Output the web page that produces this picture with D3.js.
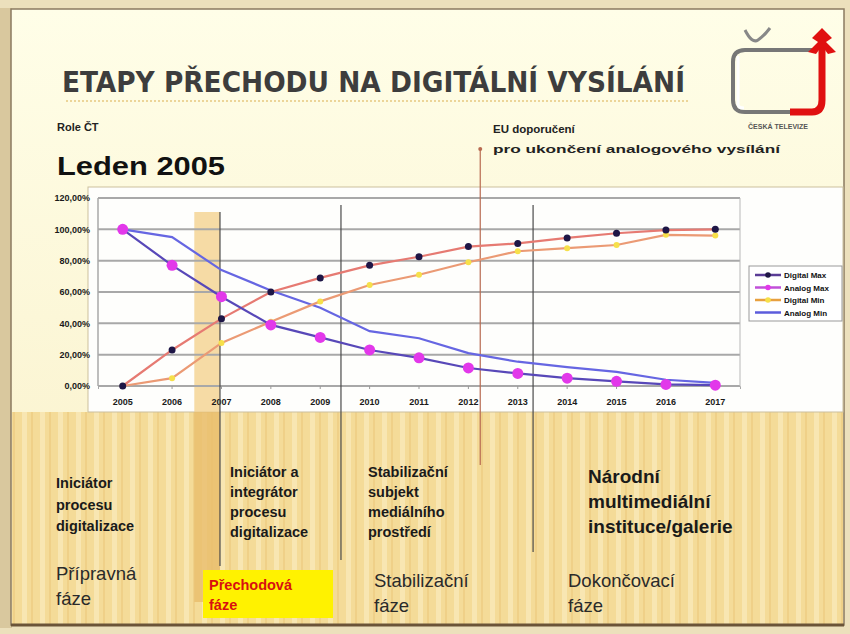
<!DOCTYPE html>
<html>
<head>
<meta charset="utf-8">
<script src="https://cdn.jsdelivr.net/npm/d3@7"></script>
<style>
  body { margin: 0; background: #eee3c2; }
  svg { display: block; }
</style>
</head>
<body>
<svg id="chart"></svg>
<script>
// Data
const years = ["2005", "2006", "2007", "2008", "2009", "2010", "2011", "2012", "2013", "2014", "2015", "2016", "2017"];
const digitalMax = [0, 23, 43, 60, 69, 77, 82.5, 89, 91, 94.5, 97.5, 99.5, 100];
const analogMax = [100, 77, 57, 39, 31, 23, 18, 11.5, 8, 5, 3, 1, 0.5];
const digitalMin = [0, 5, 27.5, 41, 54, 64.5, 71, 79, 86, 88, 90, 96.5, 96];
const analogMin = [100, 95, 74, 61, 50, 35, 30.5, 21, 15.5, 12, 9, 4, 2];
const yTicks = [0, 20, 40, 60, 80, 100, 120];
const seriesNames = ["Digital Max", "Analog Max", "Digital Min", "Analog Min"];

// phase boundaries (in years) and EU recommendation marker
const phaseLines = [2006.97, 2009.42, 2013.31];
const transitionBand = [2006.45, 2006.97];
const euYear = 2012.24;

const W = 850, H = 634;
const svg = d3.select("#chart").attr("width", W).attr("height", H);
const defs = svg.append("defs");

// background gradients
const gTop = defs.append("linearGradient").attr("id", "gTop").attr("x1", 0).attr("y1", 0).attr("x2", 0).attr("y2", 1);
gTop.append("stop").attr("offset", "0%").attr("stop-color", "#fffee8");
gTop.append("stop").attr("offset", "100%").attr("stop-color", "#f9f0c8");

const wood = defs.append("pattern").attr("id", "wood").attr("patternUnits", "userSpaceOnUse")
    .attr("width", 18).attr("height", 40);
wood.append("rect").attr("width", 18).attr("height", 40).attr("fill", "#f4db98");
wood.append("rect").attr("x", 4).attr("width", 5).attr("height", 40).attr("fill", "#f8e6b2");
wood.append("rect").attr("x", 13).attr("width", 2).attr("height", 40).attr("fill", "#efd088");

// slide frame
svg.append("rect").attr("width", W).attr("height", H).attr("fill", "#ece0bc");
svg.append("rect").attr("x", 0).attr("y", 8).attr("width", 12).attr("height", 620).attr("fill", "#d9c89e");
svg.append("rect").attr("x", 11).attr("y", 9).attr("width", 833).attr("height", 616)
    .attr("fill", "url(#gTop)").attr("stroke", "#8a7a60").attr("stroke-width", 1.5);
svg.append("rect").attr("x", 12).attr("y", 412).attr("width", 831).attr("height", 212).attr("fill", "url(#wood)");
svg.append("line").attr("x1", 11).attr("x2", 844).attr("y1", 625).attr("y2", 625)
    .attr("stroke", "#6b5438").attr("stroke-width", 3);

// Title
svg.append("text").attr("x", 62).attr("y", 92)
    .attr("font-family", "DejaVu Sans Condensed, DejaVu Sans, Arial")
    .attr("font-weight", "bold").attr("font-size", 29).attr("fill", "#3d3d3d")
    .attr("textLength", 623).attr("lengthAdjust", "spacingAndGlyphs")
    .text("ETAPY PŘECHODU NA DIGITÁLNÍ VYSÍLÁNÍ");
svg.append("line").attr("x1", 66).attr("x2", 690).attr("y1", 101).attr("y2", 101)
    .attr("stroke", "#e6c880").attr("stroke-width", 1.5).attr("stroke-dasharray", "2,2");

svg.append("text").attr("x", 57).attr("y", 131)
    .attr("font-family", "Liberation Sans, Arial").attr("font-weight", "bold")
    .attr("font-size", 11).attr("fill", "#222").text("Role ČT");
svg.append("text").attr("x", 57).attr("y", 175)
    .attr("font-family", "Liberation Sans, Arial").attr("font-weight", "bold")
    .attr("font-size", 25).attr("fill", "#111")
    .attr("textLength", 168).attr("lengthAdjust", "spacingAndGlyphs")
    .text("Leden 2005");

svg.append("text").attr("x", 493).attr("y", 133)
    .attr("font-family", "Liberation Sans, Arial").attr("font-weight", "bold")
    .attr("font-size", 11.5).attr("fill", "#222").text("EU doporučení");
svg.append("text").attr("x", 493).attr("y", 153)
    .attr("font-family", "Liberation Sans, Arial").attr("font-weight", "bold")
    .attr("font-size", 10.5).attr("fill", "#222")
    .attr("textLength", 287).attr("lengthAdjust", "spacingAndGlyphs")
    .text("pro ukončení analogového vysílání");

// Logo
const logo = svg.append("g");
logo.append("path").attr("d", "M812,50 L745,50 Q733,50 733,62 L733,100 Q733,112 745,112 L790,112")
    .attr("fill", "none").attr("stroke", "#777").attr("stroke-width", 4);
logo.append("path").attr("d", "M738,56 L738,104 Q738,108 744,108")
    .attr("fill", "none").attr("stroke", "#fff").attr("stroke-width", 3);
logo.append("path").attr("d", "M790,112 L812,112 Q822,112 822,100 L822,40")
    .attr("fill", "none").attr("stroke", "#e01010").attr("stroke-width", 7);
logo.append("path").attr("d", "M812,38 L822,28 L832,38 L826,42 L836,52 L828,54 L822,46 L816,54 L808,52 L818,42 Z")
    .attr("fill", "#e01010");
logo.append("path").attr("d", "M745,30 Q752,44 758,40 Q764,36 770,28")
    .attr("fill", "none").attr("stroke", "#888").attr("stroke-width", 3);
logo.append("text").attr("x", 778).attr("y", 129).attr("text-anchor", "middle")
    .attr("font-family", "Liberation Sans, Arial").attr("font-size", 7).attr("font-weight", "bold")
    .attr("fill", "#555").text("ČESKÁ TELEVIZE");

// Chart panel
svg.append("rect").attr("x", 88).attr("y", 187).attr("width", 755).attr("height", 225)
    .attr("fill", "#fefefc").attr("stroke", "#cbbf9e").attr("stroke-width", 1);

const plot = { left: 98, right: 740, top: 198, bottom: 386 };
const x = d3.scaleBand().domain(years).range([plot.left, plot.right]);
const xc = d => x(d) + x.bandwidth() / 2;
const xYear = d3.scaleLinear().domain([2005, 2017]).range([xc("2005"), xc("2017")]);
const y = d3.scaleLinear().domain([0, 120]).range([plot.bottom, plot.top]);

// transition band
const bandX0 = xYear(transitionBand[0]), bandX1 = xYear(transitionBand[1]);
svg.append("rect").attr("x", bandX0).attr("y", 212).attr("width", bandX1 - bandX0).attr("height", 200)
    .attr("fill", "#f3cf88").attr("opacity", 0.75);
svg.append("rect").attr("x", bandX0).attr("y", 412).attr("width", bandX1 - bandX0).attr("height", 190)
    .attr("fill", "#e9bd6c").attr("opacity", 0.8);

// gridlines
svg.append("g").selectAll("line").data(yTicks).join("line")
    .attr("x1", plot.left).attr("x2", plot.right)
    .attr("y1", d => y(d)).attr("y2", d => y(d))
    .attr("stroke", "#a8a8a8").attr("stroke-width", 2);
svg.append("line").attr("x1", plot.left).attr("x2", plot.left).attr("y1", plot.top).attr("y2", plot.bottom)
    .attr("stroke", "#a8a8a8").attr("stroke-width", 1.5);
svg.append("line").attr("x1", plot.right).attr("x2", plot.right).attr("y1", plot.top).attr("y2", plot.bottom)
    .attr("stroke", "#b8b8b8").attr("stroke-width", 1);

// axes
const fmtPct = d => d3.format(".2f")(d).replace(".", ",") + "%";
const yAxis = svg.append("g").attr("transform", `translate(${plot.left},0)`)
    .call(d3.axisLeft(y).tickValues(yTicks).tickFormat(fmtPct).tickSize(0).tickPadding(8));
yAxis.select(".domain").remove();
yAxis.selectAll("text").attr("font-family", "Liberation Sans, Arial").attr("font-weight", "bold")
    .attr("font-size", 9).attr("fill", "#1a1a1a");

const xAxis = svg.append("g").attr("transform", `translate(0,${plot.bottom})`)
    .call(d3.axisBottom(x).tickSize(3).tickPadding(10));
xAxis.select(".domain").attr("stroke", "#a8a8a8");
xAxis.selectAll("line").attr("stroke", "#999");
xAxis.selectAll("text").attr("font-family", "Liberation Sans, Arial").attr("font-weight", "bold")
    .attr("font-size", 9).attr("fill", "#1a1a1a");

// phase lines
const phaseTops = [212, 205, 205];
const phaseBottoms = [566, 560, 552];
svg.append("g").selectAll("line").data(phaseLines).join("line")
    .attr("x1", d => xYear(d)).attr("x2", d => xYear(d))
    .attr("y1", (d, i) => phaseTops[i]).attr("y2", (d, i) => phaseBottoms[i])
    .attr("stroke", "#4a4a4a").attr("stroke-width", 1.2);

// EU marker
svg.append("line").attr("x1", xYear(euYear)).attr("x2", xYear(euYear)).attr("y1", 149).attr("y2", 465)
    .attr("stroke", "#b86a50").attr("stroke-width", 1.2);
svg.append("circle").attr("cx", xYear(euYear)).attr("cy", 149).attr("r", 2).attr("fill", "#b86a50");

// series
const series = [
  { name: seriesNames[0], values: digitalMax, line: "#e67a72", marker: "#1e1646", r: 3.5 },
  { name: seriesNames[1], values: analogMax, line: "#5848b8", marker: "#e238ea", r: 5.5 },
  { name: seriesNames[2], values: digitalMin, line: "#eb9a74", marker: "#f6e04a", r: 3 },
  { name: seriesNames[3], values: analogMin, line: "#6666e2", marker: null, r: 0 }
];

const line = d3.line().x((d, i) => xc(years[i])).y(d => y(d));

[3, 2, 0, 1].forEach(k => {
  const s = series[k];
  svg.append("path").datum(s.values)
      .attr("fill", "none").attr("stroke", s.line).attr("stroke-width", 2.2)
      .attr("d", line);
});
[2, 0, 1].forEach(k => {
  const s = series[k];
  svg.append("g").selectAll("circle").data(s.values).join("circle")
      .attr("cx", (d, i) => xc(years[i])).attr("cy", d => y(d))
      .attr("r", s.r).attr("fill", s.marker);
});

// legend
const legend = svg.append("g").attr("transform", "translate(749,266)");
legend.append("rect").attr("width", 93).attr("height", 55)
    .attr("fill", "#fff").attr("stroke", "#999").attr("stroke-width", 1);
const legendLine = ["#5a3c96", "#c050d8", "#e8a040", "#5c5cdc"];
series.forEach((s, i) => {
  const ly = 9 + i * 12.5;
  legend.append("line").attr("x1", 6).attr("x2", 32).attr("y1", ly).attr("y2", ly)
      .attr("stroke", legendLine[i]).attr("stroke-width", 2.5);
  if (s.marker) legend.append("circle").attr("cx", 19).attr("cy", ly).attr("r", 2.8).attr("fill", s.marker);
  legend.append("text").attr("x", 35).attr("y", ly + 3)
      .attr("font-family", "Liberation Sans, Arial").attr("font-weight", "bold")
      .attr("font-size", 8).attr("fill", "#111").text(s.name);
});

// bottom texts
function block(lines, x0, y0, step, size, weight, color) {
  svg.append("g").selectAll("text").data(lines).join("text")
      .attr("x", x0).attr("y", (d, i) => y0 + i * step)
      .attr("font-family", "Liberation Sans, Arial").attr("font-weight", weight)
      .attr("font-size", size).attr("fill", color).text(d => d);
}
block(["Iniciátor", "procesu", "digitalizace"], 56, 488, 21.5, 14.5, "bold", "#1a1a1a");
block(["Iniciátor a", "integrátor", "procesu", "digitalizace"], 230, 477, 20, 14.5, "bold", "#1a1a1a");
block(["Stabilizační", "subjekt", "mediálního", "prostředí"], 368, 477, 20, 14.5, "bold", "#1a1a1a");
block(["Národní", "multimediální", "instituce/galerie"], 588, 483, 25, 19, "bold", "#1a1a1a");

svg.append("rect").attr("x", 203).attr("y", 570).attr("width", 130).attr("height", 48).attr("fill", "#fff200");
block(["Přechodová", "fáze"], 209, 590, 20, 14.5, "bold", "#d81010");
block(["Přípravná", "fáze"], 56, 580, 25, 18.5, "normal", "#2a2a2a");
block(["Stabilizační", "fáze"], 374, 587, 25, 18.5, "normal", "#2a2a2a");
block(["Dokončovací", "fáze"], 568, 587, 25, 18.5, "normal", "#2a2a2a");
</script>
</body>
</html>
